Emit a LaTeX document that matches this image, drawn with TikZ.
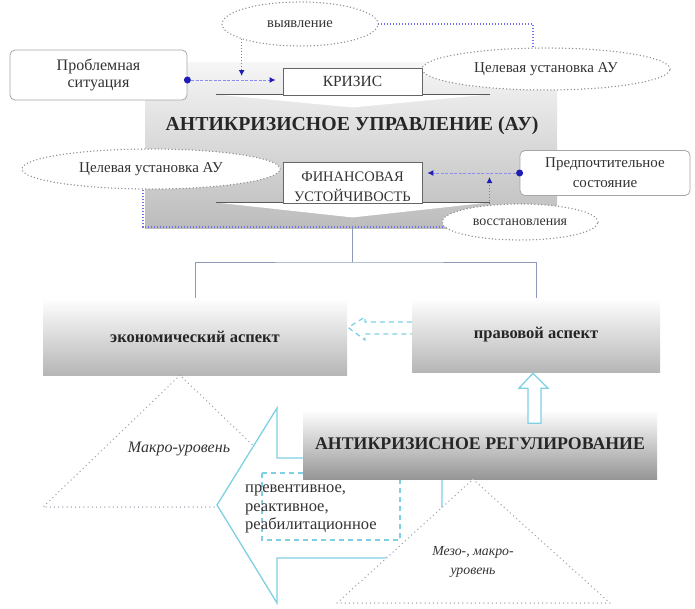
\documentclass[tikz,border=0pt]{standalone}
\usepackage{fontspec}
\setmainfont{Liberation Serif}
\newfontfamily\tnr{Liberation Serif}
\usetikzlibrary{shapes.geometric,arrows.meta,calc}
\pgfdeclarelayer{back}
\pgfdeclarelayer{conn}
\pgfsetlayers{back,conn,main}
\definecolor{txt}{HTML}{333333}
\definecolor{dotgray}{HTML}{8E8E8E}
\definecolor{bluecon}{HTML}{8C8CF2}
\definecolor{bluedark}{HTML}{1E1EB4}
\definecolor{cyanl}{HTML}{7FD0E2}
\definecolor{brack}{HTML}{8C9AB8}
\definecolor{tri}{HTML}{9AA6B0}
\begin{document}
\begin{tikzpicture}[x=1pt,y=-1pt,
  every node/.style={inner sep=0pt, align=center, text=txt, font=\tnr\fontsize{15}{18}\selectfont},
  note/.style={ellipse, draw=dotgray, line width=1.5pt, line cap=round, dash pattern=on 0pt off 3.4pt, fill=white},
  rbox/.style={rectangle, rounded corners=5pt, draw=black!35, line width=0.8pt, fill=white},
  plainbox/.style={rectangle, draw=black!60, line width=0.9pt, fill=white},
  aurect/.style={rectangle, top color={rgb,255:red,246;green,246;blue,246}, bottom color={rgb,255:red,188;green,188;blue,188}},
  aspect/.style={rectangle, top color=white, bottom color={rgb,255:red,182;green,182;blue,182}, font=\tnr\bfseries\fontsize{16.5}{19}\selectfont, text=black!85},
  regbox/.style={rectangle, top color=white, bottom color={rgb,255:red,150;green,150;blue,150}, font=\tnr\bfseries\fontsize{17.8}{20}\selectfont, text=black!85},
  dot/.style={circle, fill=bluedark, minimum size=7pt, inner sep=0pt},
  bline/.style={draw=bluecon, line width=1pt, dash pattern=on 3pt off 1.5pt},
  bdot/.style={draw=bluecon!80!blue, line width=1.1pt, dash pattern=on 1.2pt off 1.8pt},
  btip/.style={-{Latex[length=6pt,width=6pt,color=bluedark]}},
  wedgeline/.style={draw=black!65, line width=1.6pt},
  brk/.style={draw=brack, line width=0.9pt},
  tridot/.style={draw=tri, line width=1.5pt, line cap=round, dash pattern=on 0pt off 4.2pt},
  cyarrow/.style={draw=cyanl, line width=1.3pt, fill=white},
  cydash/.style={draw=cyanl, line width=1.3pt, dash pattern=on 5pt off 4pt},
  ital/.style={font=\tnr\itshape\fontsize{16}{18}\selectfont}
]
\useasboundingbox (0,0) rectangle (695,608);

% big grey area
\begin{pgfonlayer}{back}
\node[aurect, minimum width=412pt, minimum height=166pt] (au) at (351,145) {};
\end{pgfonlayer}
\node[font=\tnr\bfseries\fontsize{19.8}{22}\selectfont, text=black!85] (aut) at (352,126) {АНТИКРИЗИСНОЕ УПРАВЛЕНИЕ (АУ)};

% top part
\node[rbox, minimum width=177pt, minimum height=50pt, font=\tnr\fontsize{16}{17}\selectfont] (prob) at (98.5,75) {Проблемная\\ситуация};
\node[note, minimum width=156pt, minimum height=44pt, font=\tnr\fontsize{14.5}{16}\selectfont] (vyav) at (300,24) {выявление};
\node[note, minimum width=248pt, minimum height=42pt] (tsel1) at (546,69) {Целевая установка АУ};
\node[plainbox, minimum width=139pt, minimum height=27pt, font=\tnr\fontsize{15.5}{17}\selectfont] (kriz) at (352.5,81.5) {КРИЗИС};
\node[dot] (d1) at ([yshift=-5pt]prob.east) {};

% lower part of grey area
\node[plainbox, minimum width=139pt, minimum height=41pt] (fin) at (352.5,182.5) {};
\node[font=\tnr\fontsize{14.5}{20}\selectfont] (fintext) at ([yshift=-4pt]fin.center) {ФИНАНСОВАЯ\\УСТОЙЧИВОСТЬ};
\node[note, minimum width=258pt, minimum height=40pt] (tsel2) at (151,169) {Целевая установка АУ};
\node[rbox, minimum width=170pt, minimum height=45pt, font=\tnr\fontsize{15}{20}\selectfont] (pred) at (605,173) {Предпочтительное\\состояние};
\node[note, minimum width=156pt, minimum height=36pt, font=\tnr\fontsize{14}{16}\selectfont] (vost) at (520,222) {восстановления};
\node[dot] (d2) at (pred.west) {};

% aspects
\node[aspect, minimum width=304pt, minimum height=77pt] (econ) at (195,336.5) {экономический аспект};
\node[aspect, minimum width=248pt, minimum height=74pt] (prav) at (536,335) {правовой аспект};

% connectors on the connector layer
\begin{pgfonlayer}{conn}
  % wedges under the boxes
  \fill[white] ($(kriz.south)+(-137,-1)$) -- ($(kriz.south)+(137,-1)$) -- ($(kriz.south)+(0,12)$) -- cycle;
  \draw[wedgeline] ($(kriz.south)+(-137,-1)$) -- ($(kriz.south)+(137,-1)$);
  \fill[white] ($(fin.south)+(-137,-1)$) -- ($(fin.south)+(137,-1)$) -- ($(fin.south)+(0,14)$) -- cycle;
  \draw[wedgeline] ($(fin.south)+(-137,-1)$) -- ($(fin.south)+(137,-1)$);
  % top connectors
  \coordinate (j1) at ($(d1)!0.57!(d1 -| kriz.west)$);
  \draw[bline,btip, shorten >=7pt] (d1) -- (d1 -| kriz.west);
  \draw[bdot,btip] (j1 |- vyav.center) -- ([yshift=4pt]j1);
  \draw[bdot] (vyav.center) -| ([xshift=-13pt]tsel1.center);
  % lower connectors
  \coordinate (j2) at ($(d2)!0.31!(d2 -| fin.east)$);
  \draw[bline,btip, shorten >=5pt] (d2) -- (d2 -| fin.east);
  \draw[bdot,btip] (j2 |- vost.center) -- ([yshift=-4pt]j2);
  \draw[bdot] ([xshift=-8pt]tsel2.center) |- ([yshift=-5pt]vost.center);
  % bracket
  \coordinate (br) at (352.5,262);
  \draw[brk] (fin.south |- au.south) -- (br);
  \draw[brk] (econ.north) |- (br) -| (prav.north);
\end{pgfonlayer}

% left triangle (macro level)
\coordinate (a1) at ($(econ.south)+(-15,0)$);
\draw[tridot] (a1) -- (43,507) -- (317,507) -- cycle;
\node[ital] (macro) at (179,449) {Макро-уровень};

% big left arrow
\draw[cyarrow] (217,505) -- (277,408) -- (277,458) -- (442,458) -- (442,558) -- (277,558) -- (277,603) -- cycle;
\draw[cydash] (262,473) rectangle (400,540);
\node[anchor=north west, align=left, font=\tnr\fontsize{16.5}{18.5}\selectfont] (kinds) at (245,485) {превентивное,\\реактивное,\\реабилитационное};

% regulation box
\node[regbox, minimum width=354pt, minimum height=69pt] (reg) at (480,444.5) {\raisebox{2pt}{АНТИКРИЗИСНОЕ РЕГУЛИРОВАНИЕ}};

% meso triangle
\coordinate (a2) at ($(reg.south)+(-7,0)$);
\draw[tridot, fill=white] (a2) -- (610,603) -- (337,603) -- cycle;
\node[font=\tnr\itshape\fontsize{13.8}{19}\selectfont] (meso) at (473,562) {Мезо-, макро-\\уровень};

% up arrow from regulation to legal aspect
\draw[cyarrow] ($(prav.south)+(-3,1)$) -- ++(15,15) -- ++(-7,0) -- ++(0,35) -- ++(-13,0) -- ++(0,-35) -- ++(-9,0) -- cycle;

% dashed arrow legal -> economic
\draw[cydash] (prav.west |- 0,322) -- (365,322) -- (365,317) -- ($(econ.east)+(1,-9)$) -- (365,340) -- (365,334) -- (prav.west |- 0,334);
\end{tikzpicture}
\end{document}
